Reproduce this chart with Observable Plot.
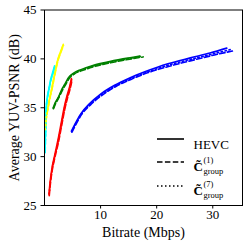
<!DOCTYPE html>
<html>
<head>
<meta charset="utf-8">
<script src="https://cdn.jsdelivr.net/npm/d3@7"></script>
<script src="https://cdn.jsdelivr.net/npm/@observablehq/plot@0.6"></script>
</head>
<body style="margin:0">
<div id="chart"></div>
<script>
// Sequences (colours) and codecs
const sequences = ["blue", "green", "red", "cyan", "yellow"];
const seqColors = ["#0000ff", "#008000", "#ff0000", "#00bfbf", "#bfbf00"];
const codecs = ["HEVC", "C1", "C7"];
const xTicks = [10, 20, 30];
const yTicks = [25, 30, 35, 40, 45];
const xLabel = "Bitrate (Mbps)";
const yLabel = "Average YUV-PSNR (dB)";

// [bitrate (Mbps), PSNR (dB)]
const blueHEVC = [[4.8,32.6],[5.5,33.4],[6.5,34.4],[8,35.4],[10,36.4],[12.5,37.3],[15,38.0],[18,38.7],[22,39.5],[26,40.1],[29.5,40.6],[32.5,41.1]];
const blueC1   = [[4.9,32.5],[5.6,33.3],[6.6,34.3],[8.2,35.3],[10.3,36.3],[12.8,37.2],[15.4,37.9],[18.5,38.6],[22.6,39.3],[26.7,39.9],[30.3,40.4],[33.5,40.8]];
const blueC7   = [[4.85,32.55],[5.55,33.35],[6.55,34.35],[8.1,35.35],[10.2,36.35],[12.7,37.25],[15.2,37.95],[18.3,38.65],[22.3,39.4],[26.4,40.0],[30,40.5],[33.1,40.95]];

const greenHEVC = [[1.55,35.0],[1.9,35.5],[2.4,36.0],[2.8,36.5],[3.2,37.0],[3.7,37.5],[4.3,38.1],[5.2,38.55],[6.5,38.9],[8.5,39.3],[11,39.65],[14,40.0],[17,40.3]];
const greenC1   = [[1.6,34.9],[1.95,35.4],[2.45,35.9],[2.85,36.4],[3.3,36.9],[3.8,37.4],[4.4,38.0],[5.3,38.45],[6.7,38.8],[8.8,39.2],[11.4,39.55],[14.5,39.9],[17.6,40.2]];
const greenC7   = [[1.58,34.95],[1.92,35.45],[2.42,35.95],[2.82,36.45],[3.25,36.95],[3.75,37.45],[4.35,38.05],[5.25,38.5],[6.6,38.85],[8.6,39.25],[11.2,39.6],[14.2,39.95],[17.3,40.25]];

const redHEVC = [[0.8,26.2],[1.0,27.4],[1.3,28.7],[1.8,30.1],[2.4,31.7],[3.0,33.5],[3.5,35.0],[4.0,36.2],[4.5,37.2],[4.8,38.0]];
const redC1   = [[0.85,26.0],[1.05,27.2],[1.35,28.5],[1.85,29.9],[2.5,31.5],[3.1,33.3],[3.6,34.8],[4.1,36.0],[4.6,37.0],[4.9,37.8]];
const redC7   = [[0.82,26.1],[1.02,27.3],[1.32,28.6],[1.82,30.0],[2.45,31.6],[3.05,33.4],[3.55,34.9],[4.05,36.1],[4.55,37.1],[4.85,37.9]];

const cyanHEVC = [[0.1,30.5],[0.2,33.0],[0.3,35.0],[0.5,36.1],[0.8,37.0],[1.1,37.9],[1.45,38.6],[1.8,39.3]];
const cyanC1   = [[0.12,30.4],[0.22,32.9],[0.33,34.9],[0.53,36.0],[0.83,36.9],[1.13,37.8],[1.5,38.5],[1.85,39.2]];
const cyanC7   = [[0.11,30.45],[0.21,32.95],[0.32,34.95],[0.52,36.05],[0.82,36.95],[1.12,37.85],[1.48,38.55],[1.82,39.25]];

const yellowHEVC = [[0.1,32.8],[0.3,34.0],[0.6,35.0],[0.95,36.1],[1.3,37.0],[1.7,38.2],[2.1,39.3],[2.4,40.0],[2.9,40.8],[3.35,41.5]];
const yellowC1   = [[0.12,32.7],[0.33,33.9],[0.63,34.9],[0.98,36.0],[1.34,36.9],[1.75,38.1],[2.15,39.2],[2.45,39.9],[2.95,40.7],[3.4,41.4]];
const yellowC7   = [[0.11,32.75],[0.32,33.95],[0.62,34.95],[0.97,36.05],[1.32,36.95],[1.72,38.15],[2.12,39.25],[2.42,39.95],[2.92,40.75],[3.37,41.45]];

const series = {
  blue:   {HEVC: blueHEVC,   C1: blueC1,   C7: blueC7},
  green:  {HEVC: greenHEVC,  C1: greenC1,  C7: greenC7},
  red:    {HEVC: redHEVC,    C1: redC1,    C7: redC7},
  cyan:   {HEVC: cyanHEVC,   C1: cyanC1,   C7: cyanC7},
  yellow: {HEVC: yellowHEVC, C1: yellowC1, C7: yellowC7}
};

const rows = [];
for (const s of sequences) for (const c of codecs)
  for (const [rate, psnr] of series[s][c]) rows.push({seq: s, codec: c, rate, psnr});

const dashes = {HEVC: null, C1: "5.5,2.4", C7: "1.5,2.5"};
const FONT = "Liberation Serif";

const lineMarks = codecs.map(c => Plot.line(rows.filter(d => d.codec === c), {
  x: "rate", y: "psnr", z: "seq", stroke: "seq",
  strokeWidth: 1.6, curve: "monotone-x",
  strokeDasharray: dashes[c] || undefined
}));

// Legend entries (text drawn as Plot text marks anchored to the frame)
const legendY = [129.5, 152.5, 176.5]; // offsets from frame top
const legendText = (txt, dx, dy, opts = {}) => Plot.text([txt], {
  text: d => d, frameAnchor: "top-left", dx, dy, textAnchor: "start",
  fontFamily: FONT, fontSize: 13, fill: "#000", ...opts
});

const chart = Plot.plot({
  width: 248, height: 249,
  marginLeft: 44, marginRight: 6, marginTop: 9.5, marginBottom: 44,
  x: {domain: [0, 35.3]},
  y: {domain: [25, 45]},
  color: {domain: sequences, range: seqColors},
  marks: [
    ...lineMarks,
    Plot.frame({stroke: "#000", strokeWidth: 1}),
    Plot.axisX({ticks: xTicks, tickSize: 3.5, tickFormat: () => "", label: null}),
    Plot.axisY({ticks: yTicks, tickSize: 3.5, tickFormat: () => "", label: null}),
    Plot.text(xTicks, {x: d => d, text: d => String(d), frameAnchor: "bottom", dy: 13,
      fontFamily: FONT, fontSize: 13, fill: "#000"}),
    Plot.text(yTicks, {y: d => d, text: d => String(d), frameAnchor: "left", dx: -8, textAnchor: "end",
      fontFamily: FONT, fontSize: 13, fill: "#000"}),
    Plot.text([xLabel], {text: d => d, frameAnchor: "bottom", dy: 31, textAnchor: "middle",
      fontFamily: FONT, fontSize: 14, fill: "#000"}),
    Plot.text([yLabel], {text: d => d, frameAnchor: "left", dx: -30, rotate: -90, textAnchor: "middle",
      fontFamily: FONT, fontSize: 14, fill: "#000"}),
    legendText("HEVC", 149, legendY[0]),
    legendText("C\u0303", 149, legendY[1] - 1, {fontWeight: "bold"}),
    legendText("(1)", 159, legendY[1] - 6, {fontSize: 8.5}),
    legendText("group", 159, legendY[1] + 5, {fontSize: 8.5}),
    legendText("C\u0303", 149, legendY[2] - 1, {fontWeight: "bold"}),
    legendText("(7)", 159, legendY[2] - 6, {fontSize: 8.5}),
    legendText("group", 159, legendY[2] + 5, {fontSize: 8.5})
  ]
});
document.getElementById("chart").appendChild(chart);

// Legend line samples
const svg = d3.select(chart);
const leg = svg.append("g");
codecs.forEach((c, i) => {
  leg.append("line").attr("x1", 157).attr("x2", 184)
    .attr("y1", 9.5 + legendY[i]).attr("y2", 9.5 + legendY[i])
    .attr("stroke", "#000").attr("stroke-width", 1.6)
    .attr("stroke-dasharray", dashes[c]);
});
</script>
</body>
</html>
